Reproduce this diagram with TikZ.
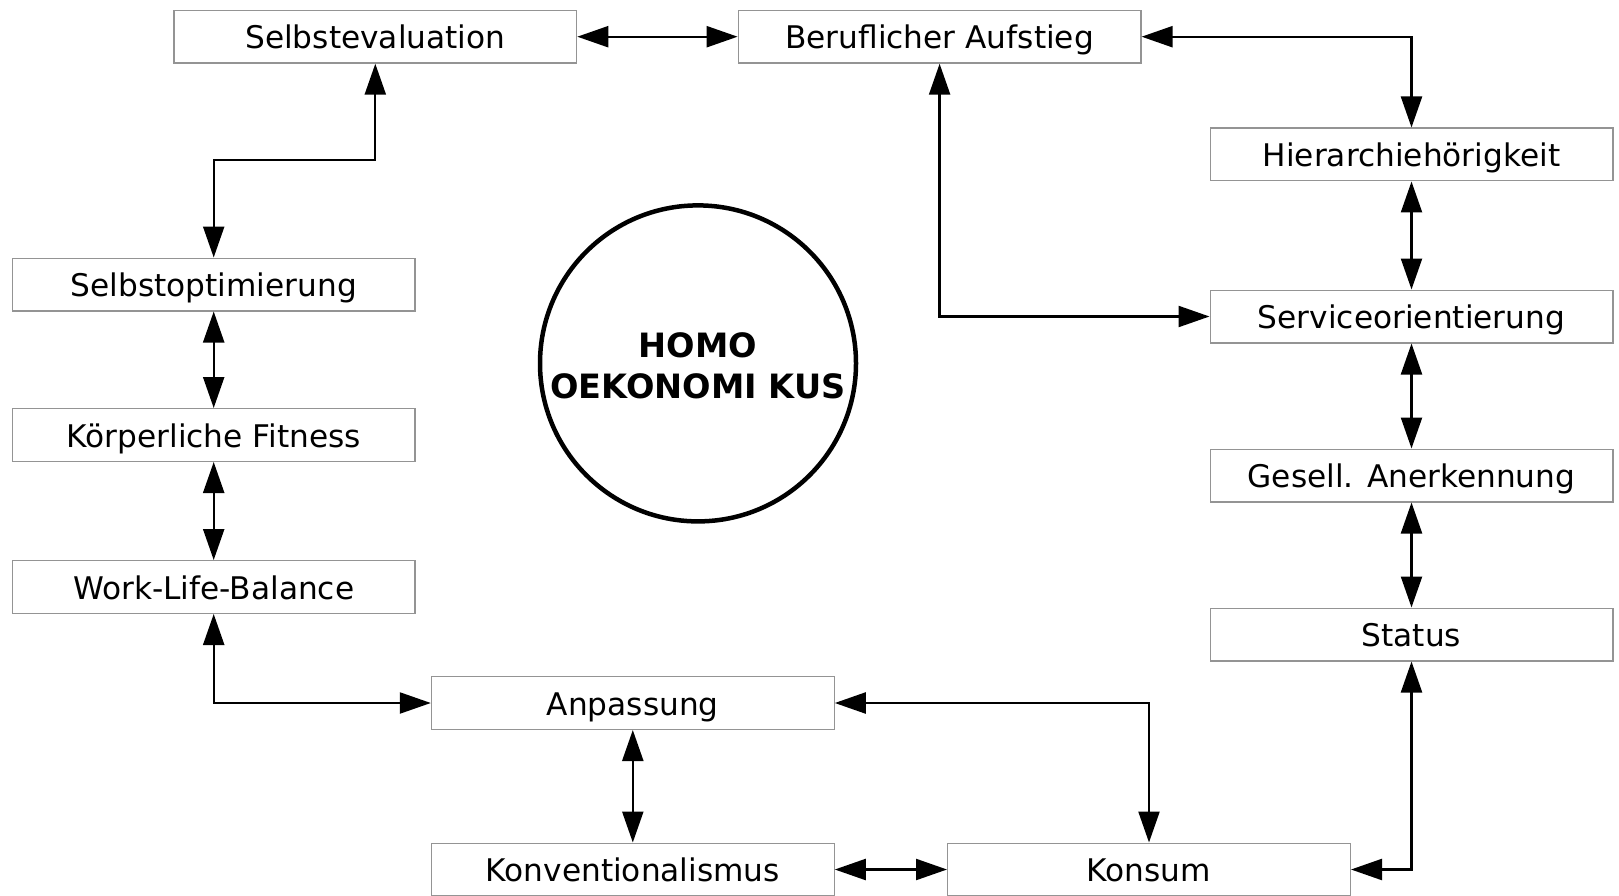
\documentclass[tikz,border=0pt]{standalone}
\usepackage{fontspec}
\setmainfont{DejaVu Sans}
\usetikzlibrary{arrows.meta}
\begin{document}
\begin{tikzpicture}[x=1pt,y=-1pt,
  boxnode/.style={draw=black!42, line width=1.3pt, rectangle, minimum width=402.7pt, minimum height=52.7pt, inner sep=0pt,
    font=\fontsize{31.2}{37}\selectfont, text height=24pt, text depth=0pt},
  conn/.style={line width=2.3pt, {Triangle[length=31pt,width=21pt]}-{Triangle[length=31pt,width=21pt]}},
  hubnode/.style={draw=black, line width=4.5pt, circle, minimum size=316pt, inner sep=0pt, align=center,
    font=\fontsize{33.5}{41.5}\selectfont\bfseries}]
\useasboundingbox (0,0) rectangle (1619,896);
\fill[white] (0,0) rectangle (1619,896);

\node[boxnode] (selbsteval) at (375.3,36.7) {Selbstevaluation};
\node[boxnode] (beruf) at (939.6,36.7) {Beruflicher Aufstieg};
\node[boxnode] (hier) at (1411.5,154.5) {Hierarchiehörigkeit};
\node[boxnode] (selbstopt) at (213.7,284.5) {Selbstoptimierung};
\node[boxnode] (service) at (1411.5,316.5) {Serviceorientierung};
\node[boxnode] (fitness) at (213.7,435) {Körperliche Fitness};
\node[boxnode] (gesell) at (1411.5,475.5) {Gesell. Anerkennung};
\node[boxnode] (wlb) at (213.7,587) {Work-Life-Balance};
\node[boxnode] (status) at (1411.5,634.5) {Status};
\node[boxnode] (anp) at (632.8,703) {Anpassung};
\node[boxnode] (konv) at (632.8,869.5) {Konventionalismus};
\node[boxnode] (konsum) at (1149,869.5) {Konsum};

\draw[black, line width=4.5pt] (698,363.4) circle (158pt);
\node[hubnode, draw=none] (homo) at (698,366) {HOMO\\OEKONOMI KUS};

\coordinate (mid1) at (0,160);

\draw[conn] (selbsteval) -- (beruf);
\draw[conn] (beruf.east) -| (hier.north);
\draw[conn] (selbsteval.south) -- (selbsteval.south |- mid1) -| (selbstopt.north);
\draw[conn] (selbstopt) -- (fitness);
\draw[conn] (fitness) -- (wlb);
\draw[conn] (wlb.south) |- (anp.west);
\draw[conn] (anp) -- (konv);
\draw[conn] (anp.east) -| (konsum.north);
\draw[conn] (konv) -- (konsum);
\draw[conn] (konsum.east) -| (status.south);
\draw[conn] (status) -- (gesell);
\draw[conn] (gesell) -- (service);
\draw[conn] (service) -- (hier);
\draw[conn] (beruf.south) |- (service.west);
\end{tikzpicture}
\end{document}
